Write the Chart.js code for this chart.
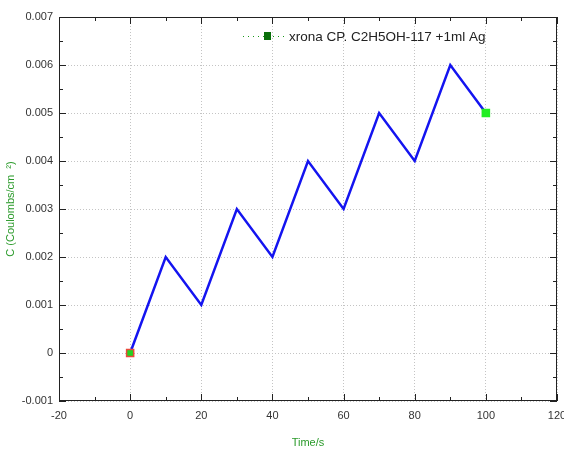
<!DOCTYPE html>
<html>
<head>
<meta charset="utf-8">
<script src="https://cdn.jsdelivr.net/npm/chart.js@4.4.1/dist/chart.umd.min.js"></script>
<style>
  html, body { margin: 0; padding: 0; background: #fff; }
  #wrap { width: 564px; height: 450px; position: relative; }
</style>
</head>
<body>
<div id="wrap"><canvas id="chart"></canvas></div>
<script>
const timeValues = [0, 10, 20, 30, 40, 50, 60, 70, 80, 90, 100];
const chargeValues = [0, 0.002, 0.001, 0.003, 0.002, 0.004, 0.003, 0.005, 0.004, 0.006, 0.005];
const xTicks = [-20, 0, 20, 40, 60, 80, 100, 120];
const yTicks = [-0.001, 0, 0.001, 0.002, 0.003, 0.004, 0.005, 0.006, 0.007];
const seriesName = "xrona CP. C2H5OH-117 +1ml Ag";

const FONT = "'Liberation Sans', Arial, sans-serif";

// inward major/minor ticks like the original plot
const innerTicks = {
  id: "innerTicks",
  afterDatasetsDraw(chart) {
    const { ctx, chartArea: a, scales } = chart;
    ctx.save();
    ctx.strokeStyle = "#222";
    ctx.lineWidth = 1;
    ctx.beginPath();
    for (let i = 0; i < xTicks.length; i += 1) {
      const px = Math.round(scales.x.getPixelForValue(xTicks[i])) + 0.5;
      ctx.moveTo(px, a.bottom); ctx.lineTo(px, a.bottom - 7);
      ctx.moveTo(px, a.top); ctx.lineTo(px, a.top + 7);
      if (i < xTicks.length - 1) {
        const mx = Math.round(scales.x.getPixelForValue((xTicks[i] + xTicks[i + 1]) / 2)) + 0.5;
        ctx.moveTo(mx, a.bottom); ctx.lineTo(mx, a.bottom - 4);
        ctx.moveTo(mx, a.top); ctx.lineTo(mx, a.top + 4);
      }
    }
    for (let i = 0; i < yTicks.length; i += 1) {
      const py = Math.round(scales.y.getPixelForValue(yTicks[i])) + 0.5;
      ctx.moveTo(a.left, py); ctx.lineTo(a.left + 7, py);
      ctx.moveTo(a.right, py); ctx.lineTo(a.right - 7, py);
      if (i < yTicks.length - 1) {
        const my = Math.round(scales.y.getPixelForValue((yTicks[i] + yTicks[i + 1]) / 2)) + 0.5;
        ctx.moveTo(a.left, my); ctx.lineTo(a.left + 4, my);
        ctx.moveTo(a.right, my); ctx.lineTo(a.right - 4, my);
      }
    }
    ctx.stroke();
    ctx.restore();
  },
};

const boxLegend = {
  id: "boxLegend",
  afterDraw(chart) {
    const { ctx } = chart;
    ctx.save();
    ctx.strokeStyle = "#1a9a1a";
    ctx.lineWidth = 1;
    ctx.setLineDash([1, 4]);
    ctx.beginPath();
    ctx.moveTo(243, 36.5); ctx.lineTo(286, 36.5);
    ctx.stroke();
    ctx.setLineDash([]);
    ctx.fillStyle = "#0a6e0a";
    ctx.fillRect(264, 32, 7, 8);
    ctx.fillStyle = "#222";
    ctx.font = "13.5px " + FONT;
    ctx.textBaseline = "middle";
    ctx.fillText(seriesName, 289, 37);
    ctx.restore();
  },
};

const frame = {
  id: "frame",
  afterDraw(chart) {
    const { ctx, chartArea: a } = chart;
    ctx.save();
    ctx.strokeStyle = "#222";
    ctx.lineWidth = 1;
    ctx.strokeRect(a.left + 0.5, a.top + 0.5, a.right - a.left - 1, a.bottom - a.top - 1);
    ctx.restore();
  },
};

const lastIndex = timeValues.length - 1;

new Chart(document.getElementById("chart"), {
  type: "line",
  data: {
    datasets: [
      {
        label: seriesName,
        data: timeValues.map((t, i) => ({ x: t, y: chargeValues[i] })),
        borderColor: "#1414f0",
        borderWidth: 2.5,
        tension: 0,
        pointStyle: "rect",
        pointRadius: timeValues.map((t, i) => (i === 0 || i === lastIndex ? 5 : 0)),
        pointBackgroundColor: timeValues.map((t, i) => (i === 0 ? "#22d422" : "#22ee22")),
        pointBorderColor: timeValues.map((t, i) => (i === 0 ? "#e84a3a" : "#22ee22")),
        pointBorderWidth: 1.5,
      },
    ],
  },
  options: {
    responsive: true,
    maintainAspectRatio: false,
    animation: false,
    layout: { padding: { top: 17, right: 7, left: 0, bottom: 0 } },
    plugins: {
      legend: { display: false },
      tooltip: { enabled: false },
    },
    scales: {
      x: {
        type: "linear",
        min: -20,
        max: 120,
        afterBuildTicks(scale) {
          scale.ticks = xTicks.map((v) => ({ value: v }));
        },
        afterFit(scale) {
          scale.height = 49;
          scale.paddingLeft = 0;
          scale.paddingRight = 0;
        },
        grid: {
          color: "#c4c4c4",
          drawTicks: false,
        },
        border: { display: false, dash: [1, 2] },
        ticks: {
          color: "#333",
          font: { family: FONT, size: 11 },
          padding: 8,
          maxRotation: 0,
        },
        title: {
          display: true,
          text: "Time/s",
          color: "#2a9a2a",
          font: { family: FONT, size: 11 },
          padding: { top: 14, bottom: 0 },
        },
      },
      y: {
        type: "linear",
        min: -0.001,
        max: 0.007,
        afterBuildTicks(scale) {
          scale.ticks = yTicks.map((v) => ({ value: v }));
        },
        afterFit(scale) {
          scale.width = 59;
          scale.paddingTop = 0;
          scale.paddingBottom = 0;
        },
        grid: {
          color: "#c4c4c4",
          drawTicks: false,
        },
        border: { display: false, dash: [1, 2] },
        ticks: {
          color: "#333",
          font: { family: FONT, size: 11 },
          padding: 6,
          callback: (v) => (v === 0 ? "0" : v.toFixed(3)),
        },
        title: {
          display: true,
          text: "C (Coulombs/cm  \u00b2)",
          color: "#2a9a2a",
          font: { family: FONT, size: 11 },
          padding: { top: 4, bottom: 2 },
        },
      },
    },
  },
  plugins: [innerTicks, boxLegend, frame],
});
</script>
</body>
</html>
